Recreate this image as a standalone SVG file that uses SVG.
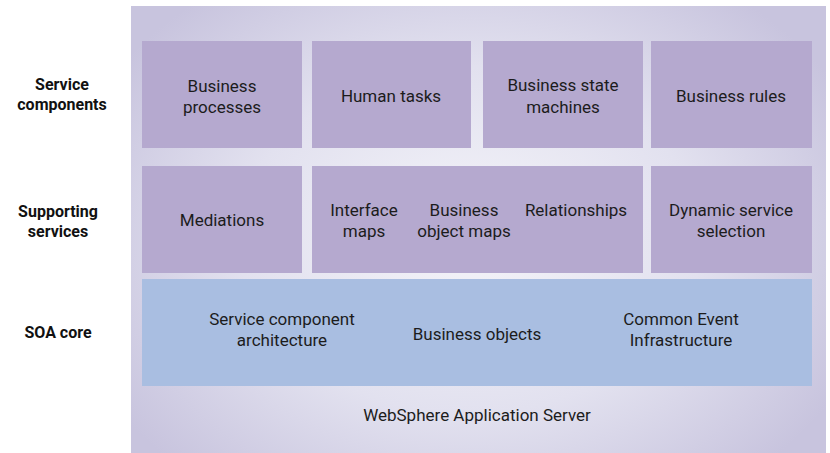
<svg xmlns="http://www.w3.org/2000/svg" width="830" height="453" viewBox="0 0 830 453">
  <defs>
    <radialGradient id="bg" cx="470" cy="240" r="420" gradientUnits="userSpaceOnUse" gradientTransform="translate(470 240) scale(1 0.75) rotate(-20) translate(-470 -240)">
      <stop offset="0" stop-color="#f4f4f9"/>
      <stop offset="0.55" stop-color="#e2e1ef"/>
      <stop offset="1" stop-color="#c8c4de"/>
    </radialGradient>
  </defs>
  <style>
    .box { fill: #b5a9cf; }
    .core { fill: #a9bee1; }
    .t { font-family: "Liberation Sans Narrow", "Roboto", "Liberation Sans", sans-serif; font-size: 17px; fill: #1c1c1c; text-anchor: middle; }
    .lbl { font-family: "Liberation Sans Narrow", "Roboto", "Liberation Sans", sans-serif; font-size: 16px; font-weight: bold; fill: #111; text-anchor: middle; }
  </style>
  <rect width="830" height="453" fill="#ffffff"/>
  <rect id="panel" x="131" y="6" width="695" height="447" fill="url(#bg)"/>

  <g id="labels">
    <text class="lbl" x="62" y="90">Service</text>
    <text class="lbl" x="62" y="110">components</text>
    <text class="lbl" x="58" y="217">Supporting</text>
    <text class="lbl" x="58" y="237">services</text>
    <text class="lbl" x="58" y="338">SOA core</text>
  </g>

  <g id="business-processes">
    <rect class="box" x="142" y="41" width="160" height="107"/>
    <text class="t" x="222" y="92">Business</text>
    <text class="t" x="222" y="113">processes</text>
  </g>
  <g id="human-tasks">
    <rect class="box" x="312" y="41" width="159" height="107"/>
    <text class="t" x="391" y="102">Human tasks</text>
  </g>
  <g id="business-state-machines">
    <rect class="box" x="483" y="41" width="160" height="107"/>
    <text class="t" x="563" y="91">Business state</text>
    <text class="t" x="563" y="113">machines</text>
  </g>
  <g id="business-rules">
    <rect class="box" x="651" y="41" width="161" height="107"/>
    <text class="t" x="731" y="102">Business rules</text>
  </g>

  <g id="mediations">
    <rect class="box" x="142" y="166" width="160" height="107"/>
    <text class="t" x="222" y="226">Mediations</text>
  </g>
  <g id="maps-relationships">
    <rect class="box" x="312" y="166" width="331" height="107"/>
    <text class="t" x="364" y="216">Interface</text>
    <text class="t" x="364" y="237">maps</text>
    <text class="t" x="464" y="216">Business</text>
    <text class="t" x="464" y="237">object maps</text>
    <text class="t" x="576" y="216">Relationships</text>
  </g>
  <g id="dynamic-service-selection">
    <rect class="box" x="651" y="166" width="161" height="107"/>
    <text class="t" x="731" y="216">Dynamic service</text>
    <text class="t" x="731" y="237">selection</text>
  </g>

  <g id="soa-core">
    <rect class="core" x="142" y="279" width="670" height="107"/>
    <text class="t" x="282" y="325">Service component</text>
    <text class="t" x="282" y="346">architecture</text>
    <text class="t" x="477" y="340">Business objects</text>
    <text class="t" x="681" y="325">Common Event</text>
    <text class="t" x="681" y="346">Infrastructure</text>
  </g>

  <g id="websphere">
    <text class="t" x="477" y="421">WebSphere Application Server</text>
  </g>

  <g id="connectors"></g>
</svg>
